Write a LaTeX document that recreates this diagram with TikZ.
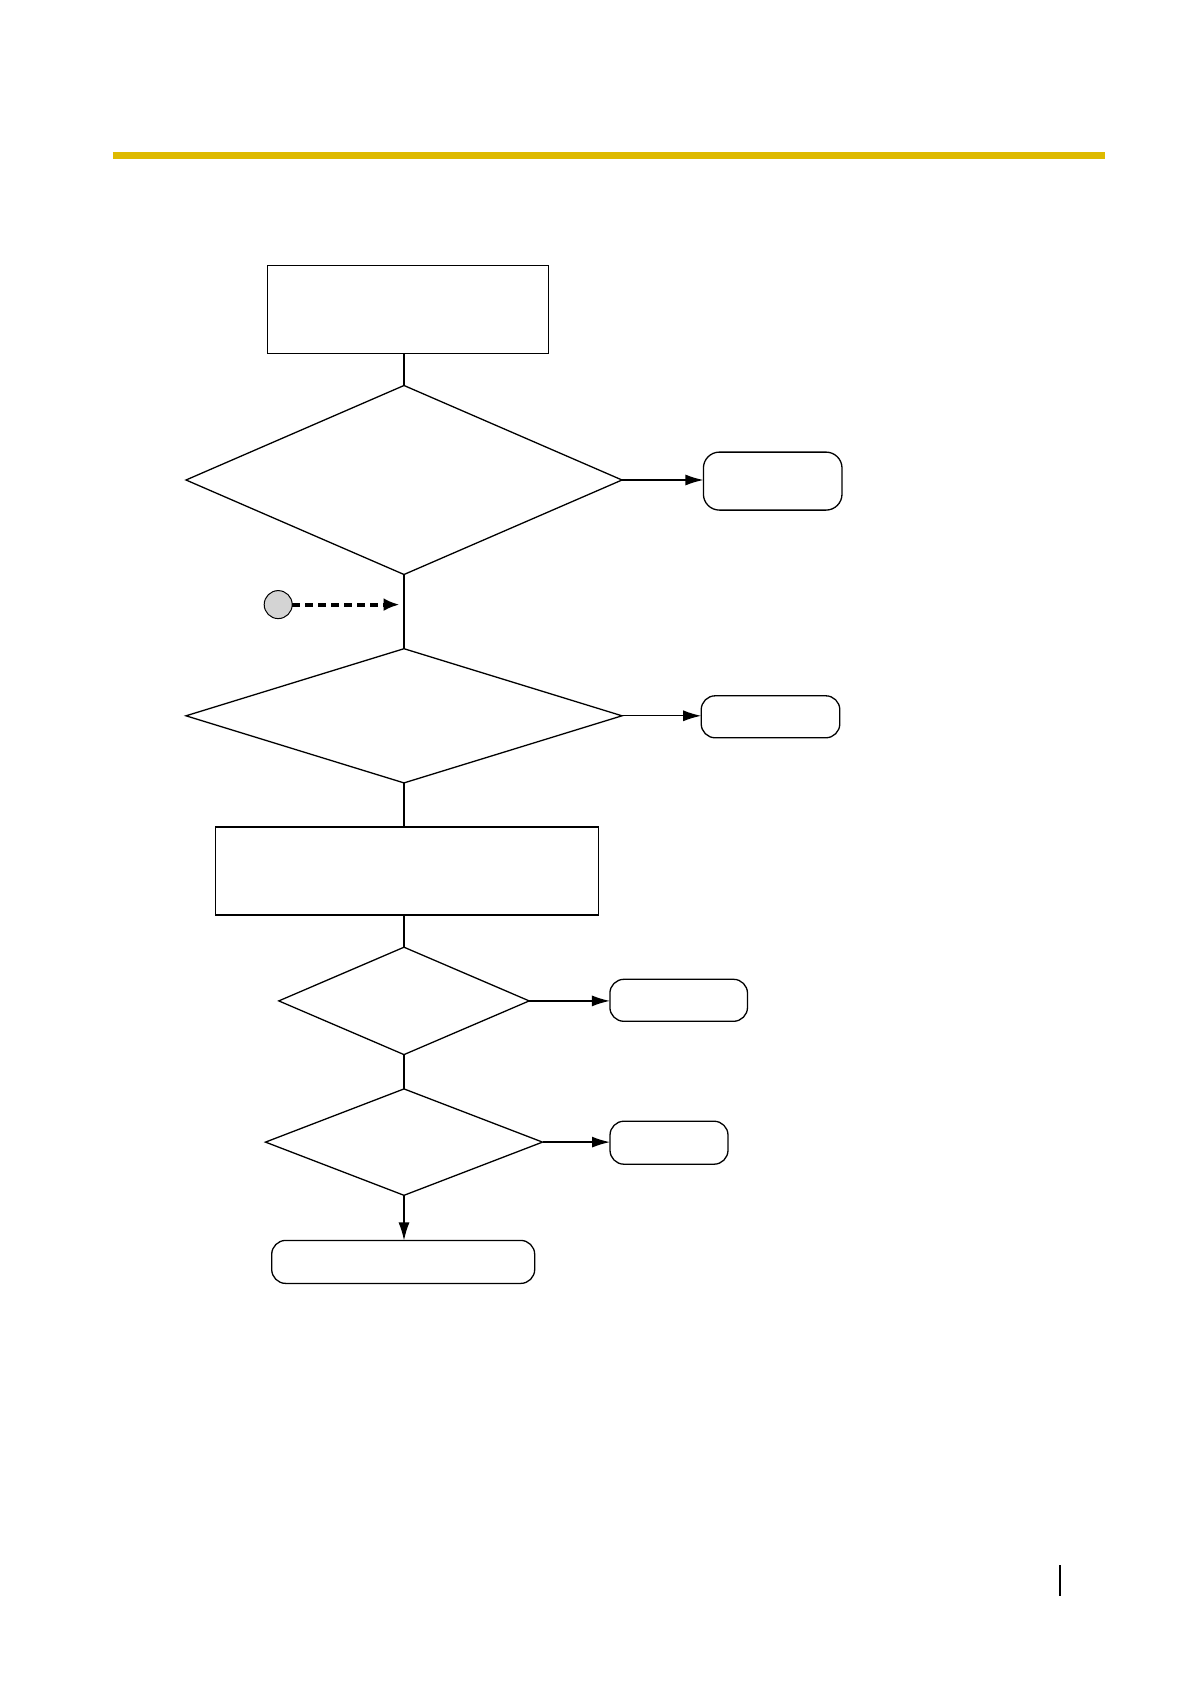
\documentclass[tikz,border=0pt]{standalone}
\usetikzlibrary{arrows.meta,shapes.geometric}

\begin{document}
\begin{tikzpicture}[x=0.5pt,y=-0.5pt,>={Latex[length=9pt,width=5.5pt]},line width=0.65pt]
\definecolor{headbar}{RGB}{222,186,0}
\definecolor{jumpfill}{RGB}{212,212,212}

\tikzset{
  procbox/.style={draw,rectangle,inner sep=0pt,outer sep=0pt},
  decbox/.style={draw,diamond,inner sep=0pt,outer sep=0pt},
  endbox/.style={draw,rectangle,rounded corners=7pt,inner sep=0pt,outer sep=0pt},
  flow/.style={draw},
}

\useasboundingbox (0,0) rectangle (1191,1684);

% page header bar
\draw[headbar,line width=3.2pt] (112.8,155.7) -- (1105.1,155.7);

% main column
\node[procbox,minimum width=140.7pt,minimum height=44pt] (start) at (408.1,309.3) {};
\node[decbox,minimum width=218pt,minimum height=94.5pt] (check1) at (404,480) {};
\node[decbox,minimum width=218pt,minimum height=67.1pt] (check2) at (404,715.8) {};
\node[procbox,minimum width=191.2pt,minimum height=44pt] (setup) at (407,871) {};
\node[decbox,minimum width=125.2pt,minimum height=53.7pt] (check3) at (404,1000.9) {};
\node[decbox,minimum width=138.5pt,minimum height=53.2pt] (check4) at (404,1142.1) {};
\node[endbox,minimum width=131.5pt,minimum height=21.5pt] (done) at (403.2,1261.9) {};

% side exits
\node[endbox,rounded corners=8pt,minimum width=69.3pt,minimum height=29pt] (exit1) at (772.7,481.1) {};
\node[endbox,minimum width=69.3pt,minimum height=21pt] (exit2) at (770.5,716.8) {};
\node[endbox,minimum width=68.8pt,minimum height=21pt] (exit3) at (678.7,1000.3) {};
\node[endbox,minimum width=59pt,minimum height=21.5pt] (exit4) at (669,1142.7) {};

% re-entry point
\node[draw,circle,fill=jumpfill,line width=0.5pt,minimum size=14pt,inner sep=0pt,outer sep=0pt] (jump) at (278.2,604.6) {};
\coordinate (rejoin) at (399.5,604.6);

\draw[flow] (check1.north |- start.south) -- (check1.north);
\draw[flow] (check1.south) -- (check2.north);
\draw[flow] (check2.south) -- (check2.south |- setup.north);
\draw[flow] (check3.north |- setup.south) -- (check3.north);
\draw[flow] (check3.south) -- (check4.north);
\draw[flow,->] (check4.south) -- (check4.south |- done.north);

\draw[flow,->] (check1.east) -- (check1.east -| exit1.west);
\draw[flow,->] (check2.east) -- (check2.east -| exit2.west);
\draw[flow,->] (check3.east) -- (check3.east -| exit3.west);
\draw[flow,->] (check4.east) -- (check4.east -| exit4.west);

\draw[->,line width=2.1pt,dash pattern=on 4pt off 2.5pt,
  >={Latex[length=8pt,width=6.5pt]}] (jump.east) -- (rejoin);

% page mark
\draw[line width=1.3pt] (1060,1565) -- (1060,1596);
\end{tikzpicture}
\end{document}
